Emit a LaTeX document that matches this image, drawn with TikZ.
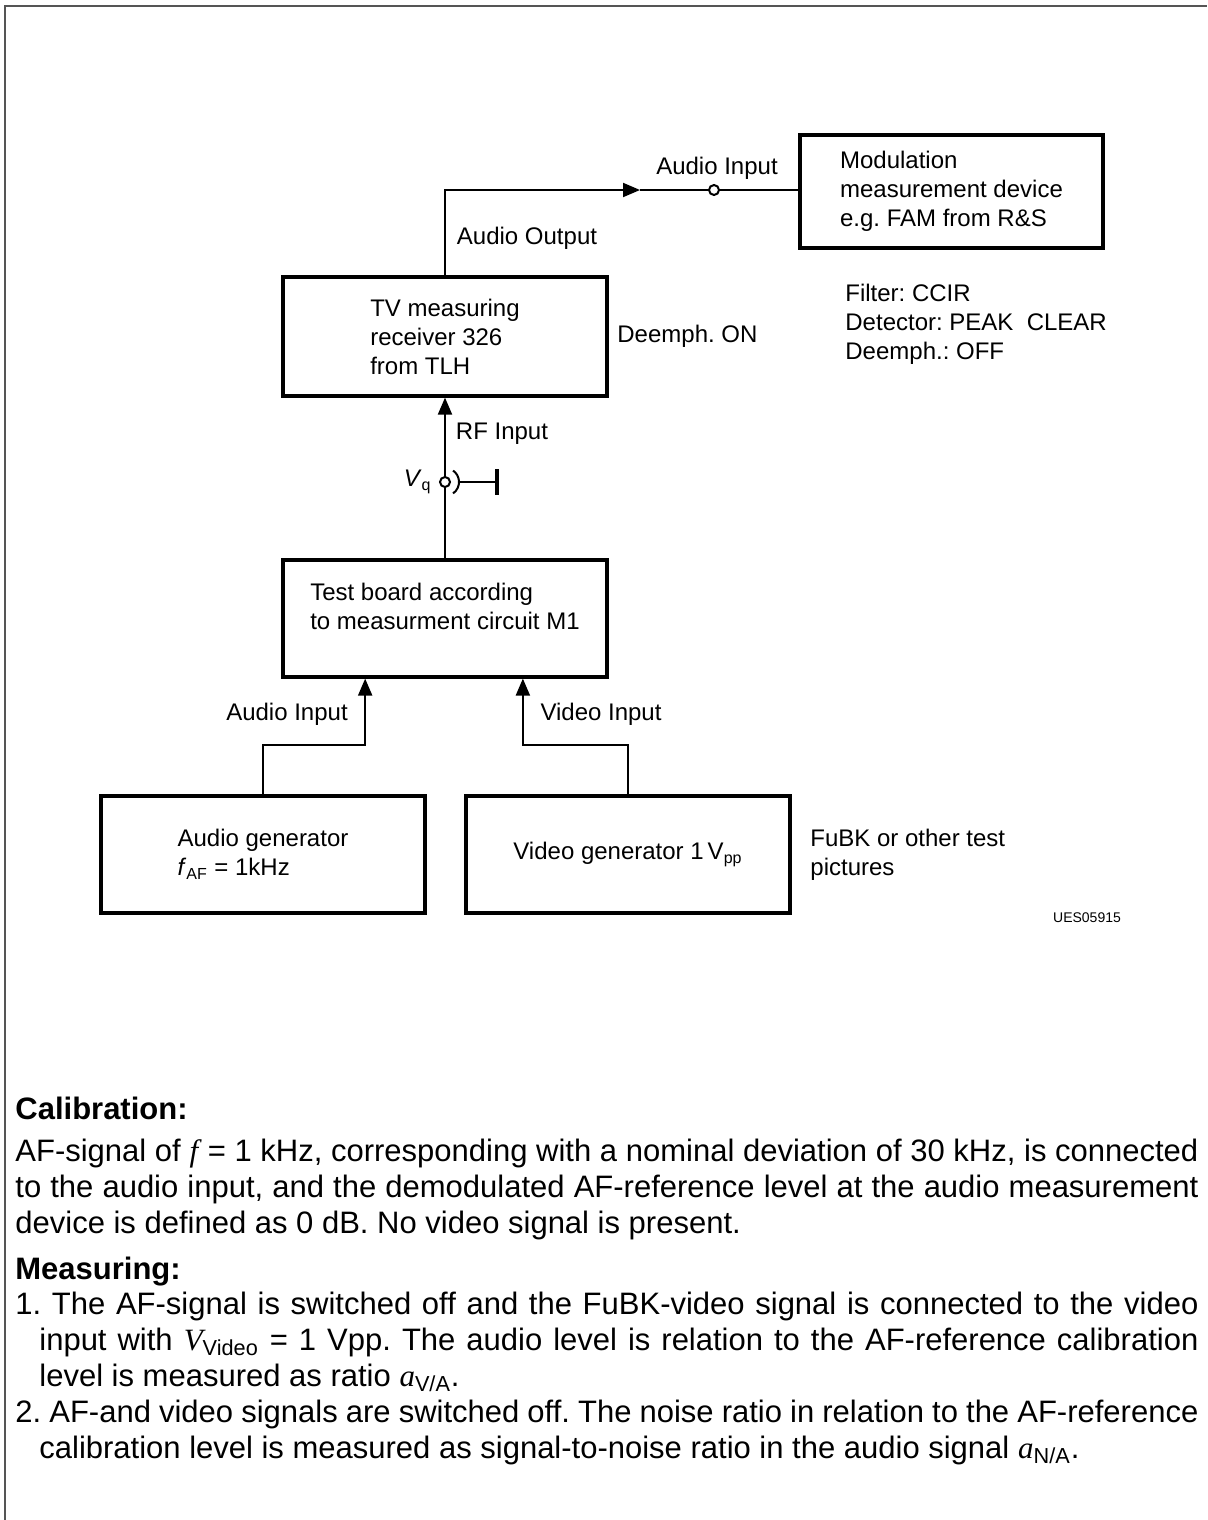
\documentclass[tikz,border=0pt]{standalone}
\usepackage{fontspec}
\setmainfont{Liberation Sans}
\newfontfamily\serifit{Liberation Serif}
\usetikzlibrary{arrows.meta,calc,positioning}
\definecolor{framegray}{HTML}{555555}
\newcommand{\diagfont}{\fontsize{12pt}{14.5pt}\selectfont}
\newcommand{\bodyfont}{\fontsize{15.5pt}{18pt}\selectfont}
\newcommand{\ivar}[2]{{\serifit\itshape #1}\textsubscript{#2}}
\tikzset{%
	block/.style = {draw, rectangle, line width=1.6pt, minimum width=162pt, minimum height=58.5pt, align=left, inner sep=0pt, font=\diagfont},
	conn/.style  = {line width=1pt},
	arr/.style   = {line width=1pt, -{Triangle[length=8.5pt,width=7pt]}},
	jack/.style  = {draw, circle, line width=1pt, fill=white, minimum size=5pt, inner sep=0pt},
	lbl/.style   = {inner sep=0pt, font=\diagfont},
	para/.style  = {inner sep=0pt, font=\bodyfont, anchor=base west},
}

\begin{document}
\frenchspacing
\begin{tikzpicture}[x=0.5pt,y=-0.5pt]
	\useasboundingbox (0,0) rectangle (1207,1520);
	\draw[framegray, line width=1pt] (5,1520) -- (5,6) -- (1207,6);
	
	% blocks
	\node[block, minimum width=151.5pt, minimum height=56.5pt] (mod) at (951.5,191.5) {Modulation\\measurement device\\e.g. FAM from R\&S};
	\node[block, minimum height=59.5pt] (tv) at (445,336.5) {TV measuring\\receiver 326\\from TLH};
	\node[block, text depth=12.5pt] (test) at (445,618.5) {Test board according\\to measurment circuit M1};
	\node[block] (agen) at (263,854.5) {Audio generator\\\textit{f}\textsubscript{AF} = 1kHz};
	\node[block] (vgen) at (628,854.5) {Video generator 1\,V\textsubscript{pp}};
	
	% audio output -> modulation device
	\node[jack] (ain) at (714,190) {};
	\coordinate (amark) at (640,190);
	\draw[arr] (tv.north) |- (amark);
	\draw[conn] (amark) -- (ain);
	\draw[conn] (ain) -- (ain -| mod.west);
	
	% RF input with source V_q
	\node[jack] (vq) at (445,482) {};
	\coordinate (gnd) at (497,482);
	\draw[arr] (vq) -- (tv.south);
	\draw[conn] (test.north) -- (vq);
	\draw[conn] ([shift={(-55:7pt)}]vq.center) arc[start angle=-55, end angle=55, radius=7pt];
	\draw[conn] ([xshift=7pt]vq.center) -- (gnd);
	\draw[line width=1.6pt] ([yshift=6.5pt]gnd) -- ([yshift=-6.5pt]gnd);
	\node[lbl, left=3.5pt of vq] (vqlbl) {\textit{V}\textsubscript{q}};
	
	% generators -> test board
	\coordinate (tain) at ($(test.south west)!0.256!(test.south east)$);
	\coordinate (tvin) at ($(test.south west)!0.738!(test.south east)$);
	\draw[arr] (agen.north) -- ++(0,-49) -| (tain);
	\draw[arr] (vgen.north) -- ++(0,-49) -| (tvin);
	
	% labels
	\node[lbl] (lblaout) at (527,238) {Audio Output};
	\node[lbl] (lblain) at (717,168) {Audio Input};
	\node[lbl] (lblrf) at (502,434) {RF Input};
	\node[lbl] (lblgain) at (287,714) {Audio Input};
	\node[lbl] (lblgvin) at (601,714) {Video Input};
	\node[lbl, anchor=west] (deemph) at (617,336) {Deemph. ON};
	\node[lbl, anchor=west, align=left] (settings) at (845,324) {Filter: CCIR\\Detector: PEAK\ \ CLEAR\\Deemph.: OFF};
	\node[lbl, anchor=west, align=left] (fubk) at (810,854.5) {FuBK or other test\\pictures};
	\node[lbl, font=\fontsize{7pt}{8pt}\selectfont] (figid) at (1087,918) {UES05915};
	
	% notes
	\node[para] (calhead) at (15,1119) {\bfseries Calibration:};
	\node[para, text width=591.5pt, align=justify] (caltext) at (15,1161) {AF-signal of \ivar{f}{} = 1 kHz, corresponding with a nominal deviation of 30 kHz, is connected\linebreak to the audio input, and the demodulated AF-reference level at the audio measurement\linebreak device is defined as 0 dB. No video signal is present.};
	\node[para] (meashead) at (15,1279) {\bfseries Measuring:};
	\node[para, text width=591.5pt, align=justify] (measone) at (15,1314) {\hangindent=12pt\hangafter=1 1.\ The AF-signal is switched off and the FuBK-video signal is connected to the video\linebreak input with \ivar{V}{Video} = 1 Vpp. The audio level is relation to the AF-reference calibration\linebreak level is measured as ratio \ivar{a}{V/A}.\par};
	\node[para, text width=591.5pt, align=justify] (meastwo) at (15,1422) {\hangindent=12pt\hangafter=1 2.\ AF-and video signals are switched off. The noise ratio in relation to the AF-reference\linebreak calibration level is measured as signal-to-noise ratio in the audio signal \ivar{a}{N/A}.\par};
\end{tikzpicture}
\end{document}
